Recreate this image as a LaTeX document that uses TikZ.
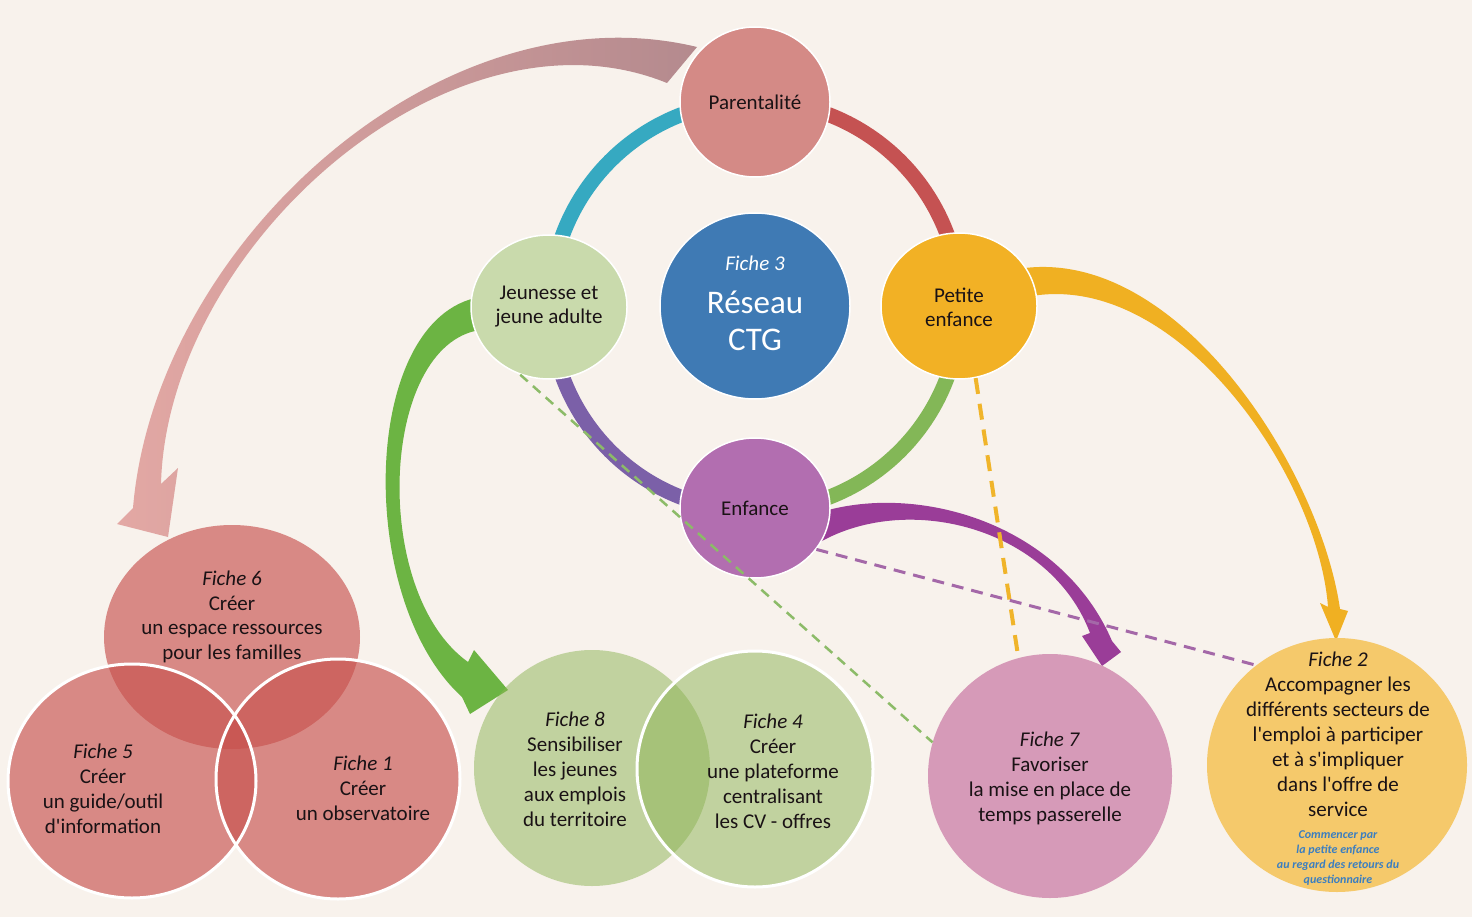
\documentclass[tikz,border=0pt]{standalone}
\usepackage{fontspec}
\setmainfont{Carlito}
\usetikzlibrary{shapes.geometric}
\pgfdeclarelayer{paper}
\pgfdeclarelayer{back}
\pgfsetlayers{paper,back,main}
\definecolor{bgC}{HTML}{F8F2EC}
\definecolor{txtC}{HTML}{1A1215}
\definecolor{parC}{HTML}{D48A86}
\definecolor{jeuC}{HTML}{C9DAAC}
\definecolor{ctgC}{HTML}{3F7AB4}
\definecolor{petC}{HTML}{F2B125}
\definecolor{enfC}{HTML}{B26EB0}
\definecolor{ringT}{HTML}{36A9C1}
\definecolor{ringR}{HTML}{C55252}
\definecolor{ringG}{HTML}{83B757}
\definecolor{ringP}{HTML}{7B60A8}
\definecolor{redF}{HTML}{C8524E}
\definecolor{grnF}{HTML}{8CB454}
\definecolor{f7C}{HTML}{D69AB8}
\definecolor{f2C}{HTML}{F5C96B}
\definecolor{pinkL}{HTML}{E3A8A4}
\definecolor{pinkR}{HTML}{B48A8E}
\definecolor{arrG}{HTML}{6CB443}
\definecolor{arrY}{HTML}{F0B022}
\definecolor{arrP}{HTML}{9A3D98}
\definecolor{dashG}{HTML}{8CBB68}
\definecolor{dashY}{HTML}{F0B42A}
\definecolor{dashP}{HTML}{A468A8}
\definecolor{noteC}{HTML}{3B7EC0}
\newcommand{\apo}{\textquotesingle}
\begin{document}
\begin{tikzpicture}[x=1pt,y=-1pt,
  hub/.style={ellipse,inner sep=0pt,draw=white,line width=1.5pt},
  fiche/.style={ellipse,inner sep=0pt},
  rim/.style={draw=white,line width=3pt},
  ringseg/.style={line width=15pt},
  lbl/.style={text=txtC,align=center,inner sep=0pt,font=\fontsize{21}{25}\selectfont},
  link/.style={line width=2.5pt,dash pattern=on 10pt off 7pt},
]
\begin{pgfonlayer}{paper}
\fill[bgC] (0,0) rectangle (1472,917);
\end{pgfonlayer}
\useasboundingbox (0,0) rectangle (1472,917);
\coordinate (ctr) at (755,306);

% ---------- back layer: ring and curved arrows ----------
\begin{pgfonlayer}{back}
\draw[ringseg,ringT] (ctr) ++(-90:205) arc[start angle=-90,end angle=-180,radius=205];
\draw[ringseg,ringR] (ctr) ++(-90:205) arc[start angle=-90,end angle=0,radius=205];
\draw[ringseg,ringG] (ctr) ++(0:205) arc[start angle=0,end angle=90,radius=205];
\draw[ringseg,ringP] (ctr) ++(90:205) arc[start angle=90,end angle=180,radius=205];
% pink arrow Parentalite -> Fiche 6
\shade[left color=pinkL,right color=pinkR] (697,47) .. controls (440,-15) and (155,245) .. (133,508)
  -- (117,524) -- (168,537) -- (178,468) -- (161,484)
  .. controls (167,247) and (450,-5) .. (667,83) -- cycle;
% green arrow Jeunesse -> Fiche 8
\fill[arrG] (480,297) .. controls (360,318) and (355,600) .. (462,697)
  -- (470,714) -- (508,690) -- (474,650) -- (468,662)
  .. controls (370,592) and (380,345) .. (480,330) -- cycle;
% yellow arrow Petite enfance -> Fiche 2
\fill[arrY] (1025,268) .. controls (1180,250) and (1320,470) .. (1340,609)
  -- (1348,611) -- (1336,641) -- (1320,603) -- (1328,607)
  .. controls (1318,475) and (1178,272) .. (1032,296) -- cycle;
% purple arrow Enfance -> Fiche 7
\fill[arrP] (812,515) .. controls (910,480) and (1060,520) .. (1112,641)
  -- (1121,652) -- (1102,666) -- (1082,636) -- (1090,633)
  .. controls (1050,527) and (905,490) .. (815,545) -- cycle;
\end{pgfonlayer}

% ---------- hub circles ----------
\node[hub,fill=parC,minimum width=150pt,minimum height=150pt] (par) at (755,102) {};
\node[hub,fill=jeuC,minimum width=156pt,minimum height=144pt] (jeu) at (549,307) {};
\node[hub,fill=ctgC,minimum width=190pt,minimum height=186pt] (ctg) at (755,306) {};
\node[hub,fill=petC,minimum width=156pt,minimum height=146pt] (pet) at (959,306) {};
\node[hub,fill=enfC,minimum width=150pt,minimum height=140pt] (enf) at (755,508) {};

% ---------- fiche circles ----------
\node[fiche,fill=redF,fill opacity=0.65,minimum width=256pt,minimum height=224pt] (f6) at (232,637) {};
\node[fiche,fill=redF,fill opacity=0.65,minimum width=248pt,minimum height=234pt] (f5) at (132,781) {};
\node[fiche,fill=redF,fill opacity=0.65,minimum width=244pt,minimum height=240pt] (f1) at (338,779) {};
\draw[rim] (f5.center) ellipse[x radius=124,y radius=117];
\draw[rim] (f1.center) ellipse[x radius=122,y radius=120];
\node[fiche,fill=grnF,fill opacity=0.5,minimum size=236pt] (f8) at (592,768) {};
\node[fiche,fill=grnF,fill opacity=0.5,minimum size=236pt] (f4) at (755,769) {};
\draw[rim] (f4.center) circle[radius=118];
\node[fiche,fill=f7C,minimum size=244pt] (f7) at (1050,776) {};
\node[fiche,fill=f2C,minimum width=260pt,minimum height=254pt] (f2) at (1337,765) {};

% ---------- dashed links ----------
\draw[link,dashG] (jeu.-113) -- (f7.164);
\draw[link,dashY,line width=4pt,dash pattern=on 16pt off 10pt] (pet.-77) -- (f7.105);
\draw[link,dashP,line width=3pt,dash pattern=on 12pt off 8pt] (enf.-34) -- (f2.129);

% ---------- texts ----------
\node[lbl] (tpar) at (755,102) {Parentalité};
\node[lbl,font=\fontsize{21}{24}\selectfont] (tjeu) at (549,307) {Jeunesse et\\jeune adulte};
\node[lbl,font=\fontsize{21}{24}\selectfont] (tpet) at (959,307) {Petite\\enfance};
\node[lbl] (tenf) at (755,508) {Enfance};
\node[lbl,text=white,anchor=base] (t3a) at (755,271) {\itshape Fiche 3};
\node[lbl,text=white,anchor=base,font=\fontsize{33}{37}\selectfont] (t3b) at (755,313) {Réseau};
\node[lbl,text=white,anchor=base,font=\fontsize{33}{37}\selectfont] (t3c) at (755,350) {CTG};

\node[lbl,font=\fontsize{21}{24.5}\selectfont] (t6) at (232,617) {\textit{Fiche 6}\\Créer\\un espace ressources\\pour les familles};
\node[lbl] (t5) at (103,789) {\textit{Fiche 5}\\Créer\\un guide/outil\\d\apo information};
\node[lbl] (t1) at (363,788) {\textit{Fiche 1}\\Créer\\un observatoire};
\node[lbl] (t8) at (575,769) {\textit{Fiche 8}\\Sensibiliser\\les jeunes\\aux emplois\\du territoire};
\node[lbl] (t4) at (773,771) {\textit{Fiche 4}\\Créer\\une plateforme\\centralisant\\les CV - offres};
\node[lbl] (t7) at (1050,778) {\textit{Fiche 7}\\Favoriser\\la mise en place de\\temps passerelle};
\node[lbl] (t2) at (1338,734) {\textit{Fiche 2}\\Accompagner les\\différents secteurs de\\l\apo emploi à participer\\et à s\apo impliquer\\dans l\apo offre de\\service};
\node[lbl,text=noteC,font=\fontsize{12}{15}\selectfont\bfseries\itshape] (t2n) at (1338,858) {Commencer par\\la petite enfance\\au regard des retours du\\questionnaire};
\end{tikzpicture}
\end{document}
